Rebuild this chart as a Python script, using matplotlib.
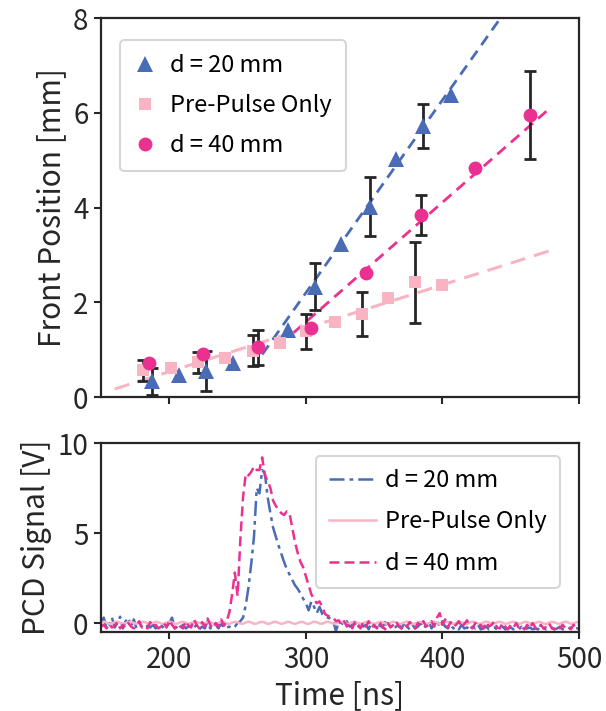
import numpy as np
import matplotlib

matplotlib.use("Agg")
import matplotlib.pyplot as plt

plt.rcParams["font.family"] = ["Noto Sans CJK JP", "DejaVu Sans"]

BLUE = "#4a6cb5"
LIGHT_PINK = "#f8b4c2"
MAGENTA = "#ea3191"
INK = "#262626"

# front position data (time in ns, position in mm)
t_20 = [187, 207, 227, 247, 287, 307, 326, 347, 366, 386, 406]
pos_20 = [0.33, 0.46, 0.55, 0.72, 1.41, 2.33, 3.24, 4.02, 5.03, 5.72, 6.37]
err_20 = [0.29, 0, 0.42, 0, 0, 0.49, 0, 0.62, 0, 0.46, 0]

t_pp = [181, 201, 221, 241, 261, 281, 300, 321, 341, 360, 380, 400]
pos_pp = [0.56, 0.61, 0.73, 0.82, 0.98, 1.14, 1.39, 1.59, 1.75, 2.10, 2.42, 2.36]
err_pp = [0.23, 0, 0.23, 0, 0.33, 0, 0.37, 0, 0.46, 0, 0.85, 0]

t_40 = [185, 225, 265, 304, 344, 384, 424, 464]
pos_40 = [0.71, 0.91, 1.05, 1.45, 2.61, 3.84, 4.84, 5.95]
err_40 = [0, 0, 0.37, 0, 0, 0.42, 0, 0.93]

# linear fits: (t start, t end, slope mm/ns, intercept mm)
fit_20 = (268, 480, 0.0407, -10.01)
fit_pp = (160, 480, 0.00916, -1.296)
fit_40 = (291, 480, 0.02525, -5.99)

# PCD traces sampled every 2 ns from 150 to 500 ns
pcd_t0, pcd_dt = 150, 2
pcd_20 = [
    0.05, 0.3, -0.3, -0.1, 0.3, -0.25, 0.0, 0.35, -0.3, 0.1,
    0.3, -0.2, 0.2, -0.3, -0.1, -0.2, -0.3, -0.15, -0.25, -0.1,
    -0.3, -0.2, -0.1, -0.3, -0.2, 0.0, 0.3, -0.3, -0.2, -0.25,
    -0.1, -0.3, -0.2, 0.0, -0.25, -0.1, -0.35, -0.2, -0.3, 0.1,
    -0.3, -0.2, -0.1, -0.3, 0.0, -0.3, -0.25, -0.2, -0.3, -0.2,
    0.0, 0.1, 0.3, 1.0, 2.0, 3.3, 4.8, 7.5, 7.2, 8.5,
    8.3, 7.0, 6.1, 5.3, 4.8, 4.3, 3.85, 3.4, 3.0, 2.7,
    2.4, 2.1, 1.9, 1.65, 1.35, 1.1, 0.7, 1.2, 0.9, 0.55,
    0.9, 0.5, 0.35, 0.3, 0.25, 0.1, -0.45, 0.05, 0.0, -0.1,
    0.1, -0.2, -0.1, 0.0, -0.3, 0.05, -0.2, -0.1, -0.35, 0.0,
    -0.2, -0.3, -0.1, -0.25, 0.05, -0.3, -0.15, -0.35, -0.2, -0.1,
    -0.3, 0.0, -0.2, -0.35, -0.1, -0.3, -0.2, 0.0, -0.3, -0.15,
    0.1, -0.3, -0.05, 0.2, -0.25, 0.1, -0.2, -0.3, -0.1, -0.3,
    -0.2, -0.35, -0.1, -0.3, -0.25, -0.35, -0.2, -0.3, -0.1, -0.35,
    -0.3, -0.2, -0.35, -0.3, -0.25, -0.35, -0.3, -0.2, -0.35, -0.3,
    -0.25, -0.35, -0.3, -0.35, -0.2, -0.35, -0.3, -0.25, -0.35, -0.3,
    -0.35, -0.2, -0.3, -0.35, -0.3, -0.25, -0.35, -0.3, -0.2, -0.35,
    -0.3, -0.35, -0.25, -0.35, -0.3, -0.3,
]
pcd_pp = [
    0.02, 0.07, 0.03, -0.04, -0.02, 0.05, 0.08, 0.02, -0.05, -0.01,
    0.06, 0.07, 0.0, -0.05, 0.0, 0.06, 0.05, -0.02, -0.06, 0.01,
    0.07, 0.04, -0.03, -0.04, 0.03, 0.08, 0.03, -0.04, -0.03, 0.04,
    0.07, 0.02, -0.05, -0.02, 0.05, 0.07, 0.01, -0.05, -0.01, 0.06,
    0.06, -0.01, -0.05, 0.0, 0.06, 0.05, -0.02, -0.06, 0.02, 0.07,
    0.04, -0.03, -0.04, 0.03, 0.08, 0.03, -0.04, -0.03, 0.04, 0.07,
    0.02, -0.05, -0.02, 0.05, 0.07, 0.01, -0.05, -0.01, 0.06, 0.06,
    -0.01, -0.05, 0.0, 0.06, 0.05, -0.02, -0.06, 0.02, 0.07, 0.04,
    -0.03, -0.04, 0.03, 0.08, 0.03, -0.04, -0.03, 0.04, 0.07, 0.02,
    -0.05, -0.02, 0.05, 0.07, 0.01, -0.05, -0.01, 0.06, 0.06, -0.01,
    -0.05, 0.0, 0.06, 0.05, -0.02, -0.06, 0.02, 0.07, 0.04, -0.03,
    -0.04, 0.03, 0.08, 0.03, -0.04, -0.03, 0.04, 0.07, 0.02, -0.05,
    -0.02, 0.05, 0.07, 0.01, -0.05, -0.01, 0.06, 0.06, -0.01, -0.05,
    0.0, 0.06, 0.05, -0.02, -0.06, 0.02, 0.07, 0.04, -0.03, -0.04,
    0.03, 0.08, 0.03, -0.04, -0.03, 0.04, 0.07, 0.02, -0.05, -0.02,
    0.05, 0.07, 0.01, -0.05, -0.01, 0.06, 0.06, -0.01, -0.05, 0.0,
    0.06, 0.05, -0.02, -0.06, 0.02, 0.07, 0.04, -0.03, -0.04, 0.03,
    0.08, 0.03, -0.04, -0.03, 0.04, 0.07,
]
pcd_40 = [
    -0.2, -0.1, -0.3, -0.05, -0.25, -0.15, 0.05, -0.3, -0.1, -0.25,
    0.0, -0.2, -0.3, -0.1, 0.1, -0.25, -0.15, -0.3, 0.05, -0.2,
    -0.1, -0.3, -0.2, 0.0, -0.25, 0.15, -0.1, -0.3, -0.05, -0.2,
    -0.3, 0.1, -0.15, -0.25, 0.2, -0.1, -0.3, 0.05, -0.2, 0.25,
    -0.1, -0.3, 0.0, -0.2, 0.2, -0.15, 0.1, 0.6, 1.6, 2.8,
    1.5, 4.6, 7.0, 8.3, 8.2, 8.4, 8.7, 8.5, 8.5, 9.2,
    8.2, 7.9, 7.5, 6.8, 6.5, 6.3, 6.1, 6.0, 6.2, 6.1,
    5.3, 4.5, 3.9, 3.4, 3.1, 2.6, 2.1, 1.6, 1.3, 1.1,
    1.2, 0.9, 0.5, 0.4, 0.35, 0.3, 0.1, 0.15, -0.1, 0.1,
    -0.2, 0.0, -0.3, 0.1, -0.1, -0.3, 0.05, -0.2, 0.1, -0.25,
    -0.1, -0.3, 0.05, -0.2, -0.35, 0.0, -0.25, -0.1, 0.1, -0.2,
    -0.3, -0.05, -0.2, 0.05, -0.1, -0.3, 0.0, -0.15, 0.1, -0.2,
    -0.1, 0.1, -0.2, 0.3, 0.55, -0.1, 0.2, -0.25, 0.05, -0.2,
    -0.1, 0.1, -0.25, -0.05, 0.15, -0.2, -0.3, 0.0, -0.2, -0.1,
    -0.3, 0.05, -0.2, -0.1, 0.1, -0.25, -0.3, 0.0, -0.2, -0.35,
    -0.1, -0.25, 0.0, -0.3, -0.2, -0.35, -0.1, -0.3, 0.0, -0.25,
    -0.35, -0.1, -0.3, -0.2, 0.0, -0.3, -0.35, -0.15, -0.3, -0.1,
    -0.3, -0.2, -0.35, -0.1, -0.3, -0.25,
]

TICK_FS = 20
LABEL_FS = 21.5
LEG_FS = 17


def style_axes(ax):
    for side in ax.spines.values():
        side.set_color(INK)
        side.set_linewidth(1.6)
    ax.tick_params(direction="out", length=5, width=1.5, color=INK,
                   labelsize=TICK_FS, labelcolor=INK, pad=4)


def draw_series(ax, t, pos, err, marker, color, ms, label):
    t = np.asarray(t, float)
    pos = np.asarray(pos, float)
    err = np.asarray(err, float)
    has = err > 0
    ax.errorbar(t[has], pos[has], yerr=err[has], fmt="none", ecolor=INK,
                elinewidth=2, capsize=4, capthick=2, zorder=2)
    ax.plot(t, pos, linestyle="none", marker=marker, color=color, ms=ms,
            markeredgewidth=0, label=label, zorder=3)


def draw_fit(ax, fit, color, lw, dashes):
    t0, t1, slope, icpt = fit
    tt = np.array([t0, t1], float)
    ax.plot(tt, slope * tt + icpt, color=color, lw=lw, dashes=dashes, zorder=1)


fig = plt.figure(figsize=(6.06, 7.11), dpi=100)
ax1 = fig.add_axes([0.1667, 0.4416, 0.7888, 0.5330])
ax2 = fig.add_axes([0.1667, 0.1111, 0.7888, 0.2658], sharex=ax1)

draw_fit(ax1, fit_pp, LIGHT_PINK, 2.2, (5, 3))
draw_fit(ax1, fit_20, BLUE, 2.0, (4, 2.5))
draw_fit(ax1, fit_40, MAGENTA, 2.0, (4, 2.5))
draw_series(ax1, t_20, pos_20, err_20, "^", BLUE, 11, "d = 20 mm")
draw_series(ax1, t_pp, pos_pp, err_pp, "s", LIGHT_PINK, 9, "Pre-Pulse Only")
draw_series(ax1, t_40, pos_40, err_40, "o", MAGENTA, 10, "d = 40 mm")

ax1.set_xlim(150, 500)
ax1.set_ylim(0, 8)
ax1.set_yticks([0, 2, 4, 6, 8])
ax1.set_ylabel("Front Position [mm]", fontsize=LABEL_FS, color=INK)
ax1.tick_params(labelbottom=False)
style_axes(ax1)
leg1 = ax1.legend(loc="upper left", bbox_to_anchor=(0.04, 0.942), borderaxespad=0,
                  fontsize=LEG_FS, numpoints=1, handletextpad=0.6,
                  labelspacing=0.72, borderpad=0.6, handlelength=0.9)
leg1.get_frame().set_edgecolor("#cccccc")
leg1.get_frame().set_linewidth(1.5)

pcd_time = pcd_t0 + pcd_dt * np.arange(len(pcd_20))
ax2.plot(pcd_time, pcd_20, color=BLUE, lw=1.8, linestyle=(0, (6, 2, 1.5, 2)), label="d = 20 mm")
ax2.plot(pcd_time, pcd_pp, color=LIGHT_PINK, lw=1.8, label="Pre-Pulse Only")
ax2.plot(pcd_time, pcd_40, color=MAGENTA, lw=1.8, linestyle=(0, (4, 2)), label="d = 40 mm")

ax2.set_ylim(-0.5, 10)
ax2.set_yticks([0, 5, 10])
ax2.set_xticks([200, 300, 400, 500])
ax2.set_ylabel("PCD Signal [V]", fontsize=LABEL_FS, color=INK)
ax2.set_xlabel("Time [ns]", fontsize=LABEL_FS, color=INK)
style_axes(ax2)
leg2 = ax2.legend(loc="upper right", bbox_to_anchor=(0.960, 0.931), borderaxespad=0,
                  fontsize=LEG_FS, handletextpad=0.4, labelspacing=0.78,
                  borderpad=0.55, handlelength=2.0)
leg2.get_frame().set_edgecolor("#cccccc")
leg2.get_frame().set_linewidth(1.5)

fig.align_ylabels([ax1, ax2])
fig.savefig("out.png", dpi=100)
